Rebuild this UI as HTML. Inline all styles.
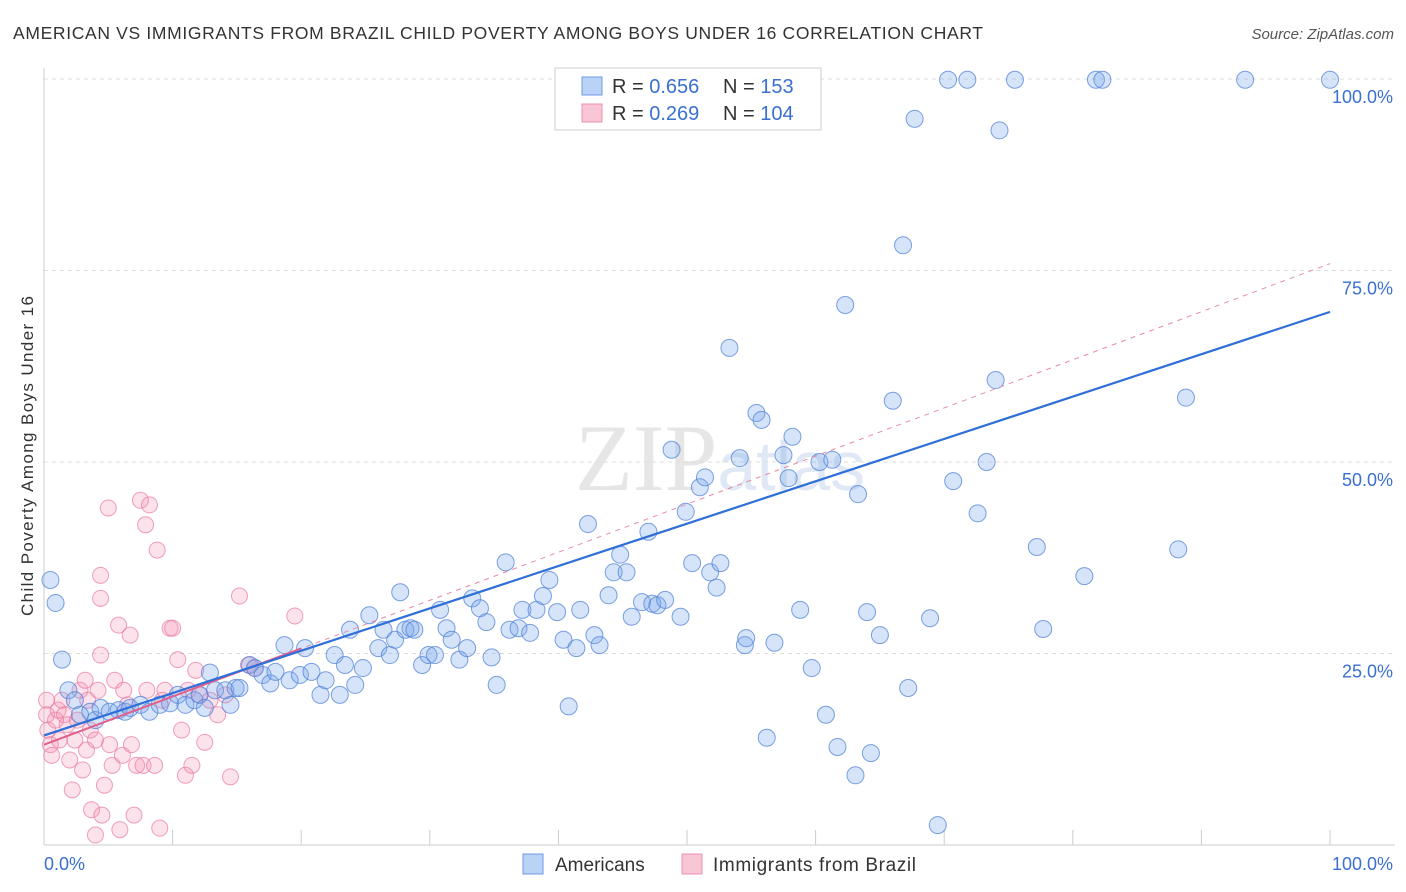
<!DOCTYPE html>
<html><head><meta charset="utf-8"><style>
body{margin:0;background:#fff;font-family:"Liberation Sans",sans-serif}
</style></head><body>
<svg id="chart" width="1406" height="892" xmlns="http://www.w3.org/2000/svg" style="display:block">
<text x="13" y="39" font-size="17.5" fill="#333" textLength="970" lengthAdjust="spacing">AMERICAN VS IMMIGRANTS FROM BRAZIL CHILD POVERTY AMONG BOYS UNDER 16 CORRELATION CHART</text>
<text x="1394" y="39" font-size="15" fill="#555" text-anchor="end" font-style="italic">Source: ZipAtlas.com</text>
<text transform="translate(33,456) rotate(-90)" font-size="17" fill="#333" text-anchor="middle" textLength="320" lengthAdjust="spacing">Child Poverty Among Boys Under 16</text>
<text x="720" y="490" font-size="95" fill="#e6e6e6" text-anchor="middle" font-family="Liberation Serif">ZIP<tspan fill="#dfe8f4" font-family="Liberation Sans" font-size="70">atlas</tspan></text>
<g id="grid"></g><g id="pts"></g><g id="lines"></g>
<g>
<rect x="555" y="68" width="266" height="62" fill="#fff" stroke="#ccc"/>
<rect x="582" y="77" width="20" height="18" fill="#b9d2f5" stroke="#6a9be0"/>
<rect x="582" y="104" width="20" height="18" fill="#f9c6d6" stroke="#ec8fae"/>
<text x="612" y="93" font-size="20" fill="#333">R = <tspan fill="#3a70d0">0.656</tspan></text>
<text x="723" y="93" font-size="20" fill="#333">N = <tspan fill="#3a70d0">153</tspan></text>
<text x="612" y="120" font-size="20" fill="#333">R = <tspan fill="#3a70d0">0.269</tspan></text>
<text x="723" y="120" font-size="20" fill="#333">N = <tspan fill="#3a70d0">104</tspan></text>
</g>
<g>
<rect x="523" y="854" width="20" height="20" fill="#b9d2f5" stroke="#6a9be0"/>
<text x="555" y="871" font-size="19" fill="#333">Americans</text>
<rect x="682" y="854" width="20" height="20" fill="#f9c6d6" stroke="#ec8fae"/>
<text x="713" y="871" font-size="19" fill="#333" textLength="203" lengthAdjust="spacing">Immigrants from Brazil</text>
</g>
<text x="44" y="870" font-size="18" fill="#3a70d0">0.0%</text>
<text x="1393" y="870" font-size="18" fill="#3a70d0" text-anchor="end">100.0%</text>
</svg>
<script>
const yTicks=[25,50,75,100];
const yTickLabels=["25.0%","50.0%","75.0%","100.0%"];
const xTicks=[0,10,20,30,40,50,60,70,80,90,100];
const blueX=[0.5,0.9,1.4,1.9,2.4,2.8,3.6,4.0,4.4,5.1,5.8,6.3,6.7,7.5,8.2,9.0,9.8,10.4,11.0,11.7,12.1,12.5,12.9,13.3,14.1,14.5,14.9,15.2,16.0,16.4,17.0,17.6,18.0,18.7,19.1,19.9,20.3,20.8,21.5,21.9,22.6,23.0,23.4,23.8,24.2,24.8,25.3,26.0,26.4,26.9,27.3,27.7,28.1,28.5,28.8,29.4,29.9,30.4,30.8,31.3,31.7,32.3,32.9,33.3,33.9,34.4,34.8,35.2,35.9,36.2,36.9,37.2,37.8,38.3,38.8,39.3,39.9,40.4,40.8,41.4,41.7,42.3,42.8,43.2,43.9,44.3,44.8,45.3,45.7,46.5,47.0,47.3,47.7,48.3,48.8,49.5,49.9,50.4,51.0,51.4,51.8,52.3,52.6,53.3,54.1,54.5,54.6,55.4,55.8,56.2,56.8,57.5,57.9,58.2,58.8,59.7,60.3,60.8,61.3,61.7,62.3,63.1,63.3,64.0,64.3,65.0,66.0,66.8,67.2,67.7,68.9,69.5,70.3,70.7,71.8,72.6,73.3,74.0,74.3,75.5,77.2,77.7,80.9,81.8,82.3,88.2,88.8,93.4,100,59.2];
const blueY=[34.6,31.6,24.2,20.2,18.9,17.0,17.4,16.3,17.9,17.4,17.6,17.4,17.9,18.3,17.4,18.3,18.5,19.6,18.3,18.9,19.6,17.9,22.5,20.2,20.2,18.3,20.5,20.5,23.5,23.1,22.2,21.1,22.6,26.1,21.5,22.2,25.7,22.6,19.6,21.5,24.8,19.6,23.5,28.1,20.9,23.1,30.0,25.7,28.1,24.8,26.8,33.0,28.1,28.3,28.1,23.5,24.8,24.8,30.7,28.3,26.8,24.2,25.7,32.2,30.9,29.1,24.5,20.9,36.9,28.1,28.3,30.7,27.7,30.7,32.5,34.6,30.4,26.8,18.1,25.7,30.7,41.9,27.4,26.1,32.6,35.6,37.9,35.6,29.8,31.7,40.9,31.5,31.3,32.0,51.6,29.8,43.5,36.8,46.7,48.0,35.6,33.6,36.8,64.9,50.5,26.1,27.0,56.4,55.5,14.0,26.4,50.9,47.9,53.3,30.7,23.1,50.0,17.0,50.3,12.8,70.5,9.1,45.8,30.4,12.0,27.4,58.0,78.3,20.5,94.8,29.6,2.6,99.9,47.5,99.9,43.3,50.0,60.7,93.3,99.9,38.9,28.2,35.1,99.9,99.9,38.6,58.4,99.9,99.9,99.9];
const pinkX=[0.2,0.2,0.3,0.5,0.6,0.9,1.1,1.2,1.4,1.6,1.8,2.0,2.2,2.4,2.6,2.8,3.0,3.2,3.3,3.4,3.6,3.7,4.0,4.0,4.2,4.4,4.4,4.4,4.5,4.7,5.0,5.1,5.3,5.5,5.8,5.9,6.1,6.2,6.5,6.7,6.8,7.0,7.2,7.5,7.7,7.9,8.0,8.2,8.6,8.8,9.0,9.2,9.4,9.8,10.0,10.4,10.7,11.0,11.2,11.5,11.8,12.1,12.5,12.9,13.5,14.1,14.5,15.2,15.9,16.4,19.5];
const pinkY=[18.9,17.0,15.0,13.1,11.7,16.3,17.6,13.7,18.9,17.0,15.7,11.1,7.2,13.7,16.3,20.2,9.8,21.5,12.4,18.9,15.0,4.6,13.7,1.3,20.2,35.2,32.2,24.8,3.9,7.8,44.0,13.1,10.4,21.5,28.7,2.0,11.7,20.2,18.3,27.4,13.1,3.9,10.4,45.0,10.4,41.8,20.2,44.4,10.4,38.5,2.2,18.9,20.2,28.3,28.3,24.2,15.0,9.1,20.2,10.4,22.8,19.6,13.4,18.9,17.0,19.6,8.9,32.5,23.5,23.1,29.9];
const blueFit=[14.3,69.6];
const pinkFit=[13.1,75.9];
const pinkSolidEnd=20;
const NS="http://www.w3.org/2000/svg";
const X0=44,X1=1330,Y0=845,Y100=79;
const sx=v=>X0+(X1-X0)*v/100, sy=v=>Y0-(Y0-Y100)*v/100;
function mk(t,a,p){const e=document.createElementNS(NS,t);for(const k in a)e.setAttribute(k,a[k]);p.appendChild(e);return e;}
const grid=document.getElementById('grid');
yTicks.forEach((t,i)=>{
 const l=mk('line',{x1:X0,x2:1395,y1:sy(t),y2:sy(t),stroke:'#ddd','stroke-dasharray':'4,4'},grid);
 
 
 const tx=mk('text',{x:1393,y:sy(t)+24,'font-size':18,fill:'#3a70d0','text-anchor':'end'},grid);
 tx.textContent=yTickLabels[i];
 
 
});
const ax=mk('line',{x1:X0,x2:X0,y1:68,y2:Y0,stroke:'#ccc'},grid);


const bx=mk('line',{x1:X0,x2:1395,y1:Y0,y2:Y0,stroke:'#ccc'},grid);


xTicks.forEach(t=>{
 const l=mk('line',{x1:sx(t),x2:sx(t),y1:Y0-15,y2:Y0,stroke:'#ccc'},grid);
 
 
});
const pts=document.getElementById('pts');
pinkX.forEach((v,i)=>{
 const c=mk('circle',{cx:sx(v),cy:sy(pinkY[i]),r:8,fill:'rgba(242,140,175,0.25)',stroke:'rgba(232,120,160,0.7)','stroke-width':1},pts);
 
 
});
blueX.forEach((v,i)=>{
 const c=mk('circle',{cx:sx(v),cy:sy(blueY[i]),r:8.5,fill:'rgba(120,165,235,0.3)',stroke:'rgba(80,130,215,0.75)','stroke-width':1},pts);
 
 
});
const lines=document.getElementById('lines');
const pf=x=>pinkFit[0]+(pinkFit[1]-pinkFit[0])*x/100;
const pd=mk('line',{x1:sx(0),y1:sy(pinkFit[0]),x2:sx(100),y2:sy(pinkFit[1]),stroke:'#e58aa8','stroke-width':1,'stroke-dasharray':'5,5'},lines);


const ps=mk('line',{x1:sx(0),y1:sy(pinkFit[0]),x2:sx(pinkSolidEnd),y2:sy(pf(pinkSolidEnd)),stroke:'#e0608c','stroke-width':2},lines);


const bl=mk('line',{x1:sx(0),y1:sy(blueFit[0]),x2:sx(100),y2:sy(blueFit[1]),stroke:'#2f6fd8','stroke-width':2.2},lines);


</script>
</body></html>
